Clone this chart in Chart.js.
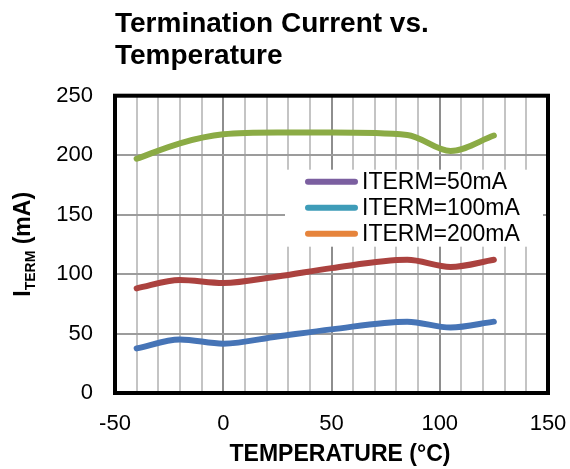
<!DOCTYPE html>
<html>
<head>
<meta charset="utf-8">
<script src="https://cdn.jsdelivr.net/npm/chart.js@4"></script>
<style>
  html, body { margin: 0; padding: 0; background: #fff; }
  #wrap { width: 570px; height: 469px; }
</style>
</head>
<body>
<div id="wrap"><canvas id="termChart" width="570" height="469"></canvas></div>
<script>
// temperature points (deg C)
const temps = [-40, -20, 0, 25, 50, 85, 105, 125];
// measured termination current (mA)
const iterm50 = [37.5, 45, 41.5, 47.5, 53.5, 60, 55, 60];
const iterm100 = [88, 95, 92.5, 98, 105, 112, 106, 112];
const iterm200 = [197, 210, 217.5, 219, 219, 217, 203.5, 216.5];

const seriesLabels = ['ITERM=50mA', 'ITERM=100mA', 'ITERM=200mA'];
const lineColors = ['#4674b6', '#ab423f', '#8bab45'];
// legend swatches in the original picture use other colours than the lines
const legendColors = ['#7b5fa0', '#3e9cb8', '#e6843c'];

const FONT = "'Liberation Sans', Arial, sans-serif";
Chart.defaults.font.family = FONT;
Chart.defaults.color = '#000';

function toPoints(vals) {
    return temps.map((t, i) => ({ x: t, y: vals[i] }));
}

var datasets = [iterm50, iterm100, iterm200].map((vals, i) => ({
    label: seriesLabels[i],
    data: toPoints(vals),
    borderColor: lineColors[i],
    backgroundColor: lineColors[i],
    borderWidth: 6,
    borderCapStyle: 'round',
    pointRadius: 0,
    cubicInterpolationMode: 'monotone',
    fill: false
}));

// legend box, axis titles and frame
const extras = {
    id: 'extras',
    beforeDatasetsDraw(chart) {
        const c = chart.ctx, ca = chart.chartArea;
        const bx = ca.left + 170, by = ca.top + 74;
        c.save();
        c.fillStyle = '#fff';
        c.fillRect(bx, by, 258, 77);
        c.font = '23px ' + FONT;
        c.textBaseline = 'middle';
        c.lineCap = 'round';
        c.lineWidth = 6;
        seriesLabels.forEach((lab, i) => {
            const y = by + 12 + i * 26;
            c.strokeStyle = legendColors[i];
            c.beginPath();
            c.moveTo(bx + 23, y);
            c.lineTo(bx + 70, y);
            c.stroke();
            c.fillStyle = '#000';
            c.fillText(lab, bx + 77, y + 1);
        });
        c.restore();
    },
    afterDatasetsDraw(chart) {
        const c = chart.ctx, ca = chart.chartArea;
        c.save();
        c.strokeStyle = '#000';
        c.lineWidth = 4;
        c.strokeRect(ca.left, ca.top, ca.right - ca.left, ca.bottom - ca.top);

        // x axis title
        c.fillStyle = '#000';
        c.font = 'bold 23px ' + FONT;
        c.textAlign = 'center';
        c.textBaseline = 'middle';
        c.fillText('TEMPERATURE (°C)', 340, 455);

        // y axis title with subscript
        const big = 'bold 23px ' + FONT, small = 'bold 14px ' + FONT;
        c.font = big;
        const w1 = c.measureText('I').width;
        const w3 = c.measureText(' (mA)').width;
        c.font = small;
        const w2 = c.measureText('TERM').width;
        const total = w1 + w2 + w3;
        c.translate(22, (ca.top + ca.bottom) / 2);
        c.rotate(-Math.PI / 2);
        c.textAlign = 'left';
        c.textBaseline = 'alphabetic';
        let x = -total / 2;
        c.font = big;
        c.fillText('I', x, 8);
        x += w1;
        c.font = small;
        c.fillText('TERM', x, 13);
        x += w2;
        c.font = big;
        c.fillText(' (mA)', x, 8);
        c.restore();
    }
};

var termChart = new Chart(document.getElementById('termChart'), {
    type: 'line',
    data: { datasets: datasets },
    options: {
        responsive: false,
        animation: false,
        layout: { padding: { top: 0, right: 22, left: 0, bottom: 0 } },
        scales: {
            x: {
                type: 'linear',
                min: -50,
                max: 150,
                afterFit: (s) => { s.height = 76; s.paddingLeft = 0; s.paddingRight = 0; },
                border: { display: false },
                grid: {
                    drawTicks: false,
                    lineWidth: 2,
                    color: (ctx) => (ctx.tick && ctx.tick.value % 50 === 0) ? '#8e8e8e' : '#c4c4c4'
                },
                ticks: {
                    stepSize: 10,
                    autoSkip: false,
                    maxRotation: 0,
                    padding: 18,
                    font: { size: 22 },
                    callback: (v) => (v % 50 === 0 ? v : '')
                }
            },
            y: {
                min: 0,
                max: 250,
                afterFit: (s) => { s.width = 115; },
                border: { display: false },
                grid: { drawTicks: false, lineWidth: 2, color: '#9c9c9c' },
                ticks: { stepSize: 50, padding: 22, font: { size: 22 } }
            }
        },
        plugins: {
            legend: { display: false },
            tooltip: { enabled: false },
            title: {
                display: true,
                fullSize: false,
                align: 'start',
                text: ['Termination Current vs.', 'Temperature'],
                color: '#000',
                font: { size: 28, weight: 'bold', lineHeight: 1.15 },
                padding: { top: 8.3, bottom: 23 }
            }
        }
    },
    plugins: [extras]
});
</script>
</body>
</html>
